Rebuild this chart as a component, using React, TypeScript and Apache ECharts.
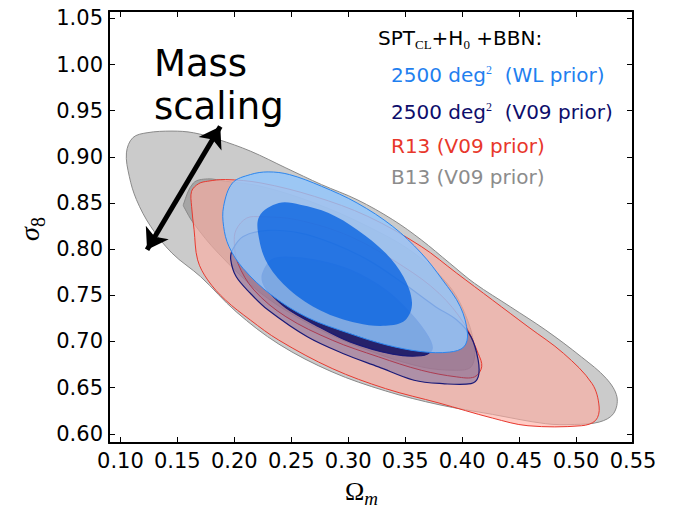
import React, { useEffect, useRef } from "react";
import * as echarts from "echarts";

// ---- axis ticks ----
const X_TICKS = [0.1, 0.15, 0.2, 0.25, 0.3, 0.35, 0.4, 0.45, 0.5, 0.55];
const Y_TICKS = [0.6, 0.65, 0.7, 0.75, 0.8, 0.85, 0.9, 0.95, 1.0, 1.05];

// ---- contour outlines [Omega_m, sigma_8] ----
const B13_OUTER = [
  [0.1053, 0.9043], [0.1109, 0.9207], [0.1234, 0.9261], [0.1453, 0.9279], [0.1641, 0.9261],
  [0.1859, 0.9188], [0.2141, 0.9062], [0.2453, 0.888], [0.2766, 0.8699], [0.3078, 0.8536],
  [0.3391, 0.8319], [0.3641, 0.8101], [0.3891, 0.7848], [0.4109, 0.763], [0.4422, 0.7377],
  [0.4734, 0.7123], [0.5047, 0.6833], [0.5266, 0.6598], [0.5359, 0.6399], [0.5328, 0.6217],
  [0.5203, 0.6127], [0.4984, 0.6101], [0.4734, 0.6109], [0.4266, 0.621], [0.3797, 0.6315],
  [0.3328, 0.6464], [0.2859, 0.667], [0.2391, 0.6971], [0.2016, 0.7322], [0.1703, 0.7703],
  [0.1453, 0.7957], [0.1266, 0.8246], [0.1141, 0.8536], [0.1078, 0.879]
];
const B13_INNER = [
  [0.1553, 0.8482], [0.1641, 0.8717], [0.1766, 0.8761], [0.1922, 0.8736], [0.2234, 0.8681],
  [0.2703, 0.85], [0.3172, 0.8246], [0.3578, 0.7957], [0.3891, 0.7594], [0.4047, 0.7232],
  [0.4109, 0.6906], [0.4078, 0.6725], [0.3953, 0.6688], [0.3641, 0.6725], [0.3172, 0.6906],
  [0.2703, 0.716], [0.2234, 0.7522], [0.1859, 0.7957], [0.1641, 0.8283], [0.1563, 0.8446]
];
const R13_OUTER = [
  [0.1625, 0.8627], [0.1688, 0.871], [0.1766, 0.8736], [0.1922, 0.8754], [0.2234, 0.8717],
  [0.2703, 0.8572], [0.3172, 0.8355], [0.3641, 0.8029], [0.3953, 0.7739], [0.4266, 0.7449],
  [0.4578, 0.716], [0.4891, 0.687], [0.5141, 0.6543], [0.5203, 0.629], [0.5172, 0.6145],
  [0.5047, 0.6087], [0.4578, 0.6087], [0.4266, 0.617], [0.3797, 0.6333], [0.3328, 0.6489],
  [0.2859, 0.6707], [0.2391, 0.7014], [0.2141, 0.7232], [0.1922, 0.7449], [0.1766, 0.7667],
  [0.1678, 0.7884], [0.1647, 0.821], [0.1625, 0.8464]
];
const R13_INNER = [
  [0.2016, 0.821], [0.2109, 0.8337], [0.2234, 0.8351], [0.2547, 0.8319], [0.3016, 0.8138],
  [0.3484, 0.7812], [0.3797, 0.7522], [0.4016, 0.7196], [0.4141, 0.687], [0.4172, 0.6725],
  [0.4109, 0.6616], [0.3953, 0.6616], [0.3641, 0.6688], [0.3266, 0.6833], [0.2859, 0.7014],
  [0.2453, 0.7268], [0.2172, 0.7558], [0.2031, 0.7848], [0.2, 0.8065]
];
const V09_OUTER = [
  [0.1984, 0.7993], [0.2078, 0.8138], [0.2297, 0.8203], [0.2578, 0.8174], [0.2859, 0.8065],
  [0.3172, 0.7884], [0.3484, 0.763], [0.3766, 0.7377], [0.3953, 0.7232], [0.4078, 0.705],
  [0.4141, 0.6797], [0.4141, 0.6616], [0.4078, 0.6543], [0.3828, 0.6543], [0.3578, 0.658],
  [0.3266, 0.6725], [0.2953, 0.687], [0.2641, 0.705], [0.2297, 0.734], [0.2141, 0.7522],
  [0.2016, 0.7703], [0.1969, 0.7884]
];
const V09_INNER = [
  [0.225, 0.7739], [0.2328, 0.7884], [0.2453, 0.7913], [0.2703, 0.7884], [0.3016, 0.7775],
  [0.3328, 0.7558], [0.3547, 0.7304], [0.3703, 0.705], [0.3734, 0.6906], [0.3641, 0.6845],
  [0.3391, 0.6862], [0.3016, 0.6995], [0.2703, 0.7185], [0.2453, 0.7365], [0.2297, 0.7545],
  [0.225, 0.7640]
];
const WL_OUTER = [
  [0.1906, 0.8464], [0.1984, 0.8717], [0.2141, 0.8808], [0.2297, 0.8837], [0.2484, 0.8808],
  [0.2766, 0.8681], [0.3078, 0.85], [0.3391, 0.8246], [0.3641, 0.7957], [0.3828, 0.7667],
  [0.3984, 0.7377], [0.4047, 0.7087], [0.4016, 0.6942], [0.3891, 0.6885], [0.3641, 0.6890],
  [0.3328, 0.6965], [0.3016, 0.7085], [0.2641, 0.7260], [0.2328, 0.7500], [0.2078, 0.7790],
  [0.1953, 0.8029], [0.1906, 0.8246]
];
const WL_INNER = [
  [0.2219, 0.8355], [0.2391, 0.85], [0.2578, 0.8482], [0.2828, 0.8391], [0.3078, 0.821],
  [0.3328, 0.7957], [0.3484, 0.7703], [0.3560, 0.7420], [0.3500, 0.7230], [0.3328, 0.7170],
  [0.3078, 0.7200], [0.2766, 0.7330], [0.2484, 0.7560], [0.2297, 0.7830], [0.2219, 0.8101]
];

// arrow ("Mass scaling") end points in data units
const ARROW_START = [0.1234, 0.7994];
const ARROW_END = [0.1877, 0.9328];

const SANS = "DejaVu Sans";
const SERIF = "Liberation Serif";

function contour(name: string, pts: number[][], fill: string, stroke: string, lw: number, z: number) {
  return {
    name,
    type: "custom",
    coordinateSystem: "cartesian2d",
    xAxisIndex: 0,
    yAxisIndex: 0,
    silent: true,
    clip: true,
    z,
    data: pts,
    encode: { x: 0, y: 1 },
    renderItem: (params: any, api: any) => {
      if (params.dataIndex !== 0) return null;
      const points = pts.map((p) => api.coord(p));
      return {
        type: "polygon",
        shape: { points, smooth: 0.35 },
        style: { fill, stroke, lineWidth: lw },
      };
    },
  };
}

export default function App() {
  const ref = useRef<HTMLDivElement>(null);
  useEffect(() => {
    if (!ref.current) return;
    const chart = echarts.init(ref.current, undefined, { renderer: "svg" });
    const axisLine = { show: true, onZero: false, lineStyle: { color: "#000", width: 2 } };
    const tick = (vals: number[]) => ({
      show: true, inside: true, length: 6, customValues: vals,
      lineStyle: { color: "#000", width: 1 },
    });
    const option: any = {
      animation: false,
      backgroundColor: "#ffffff",
      textStyle: { fontFamily: SANS },
      grid: { left: 109, right: 40, top: 11, bottom: 72 },
      xAxis: [
        {
          type: "value", min: 0.09, max: 0.55, position: "bottom",
          axisLine, axisTick: tick(X_TICKS), splitLine: { show: false },
          axisLabel: {
            customValues: X_TICKS, formatter: (v: number) => v.toFixed(2),
            fontSize: 21, color: "#000", fontFamily: SANS, margin: 7,
          },
        },
        {
          type: "value", min: 0.09, max: 0.55, position: "top",
          axisLine, axisTick: tick(X_TICKS), splitLine: { show: false },
          axisLabel: { show: false },
        },
      ],
      yAxis: [
        {
          type: "value", min: 0.59, max: 1.058, position: "left",
          axisLine, axisTick: tick(Y_TICKS), splitLine: { show: false },
          axisLabel: {
            customValues: Y_TICKS, formatter: (v: number) => v.toFixed(2),
            fontSize: 21, color: "#000", fontFamily: SANS, margin: 6,
          },
        },
        {
          type: "value", min: 0.59, max: 1.058, position: "right",
          axisLine, axisTick: tick(Y_TICKS), splitLine: { show: false },
          axisLabel: { show: false },
        },
      ],
      series: [
        contour("B13 outer", B13_OUTER, "rgba(140,140,140,0.45)", "#8a8a8a", 1, 1),
        contour("B13 inner", B13_INNER, "rgba(120,120,120,0.45)", "#8a8a8a", 1, 2),
        contour("R13 outer", R13_OUTER, "rgba(255,172,162,0.62)", "#e8392f", 1, 3),
        contour("R13 inner", R13_INNER, "rgba(200,110,110,0.2)", "#e8392f", 1, 4),
        contour("V09 outer", V09_OUTER, "rgba(60,70,150,0.35)", "#1a1a78", 1.2, 5),
        contour("V09 inner", V09_INNER, "rgba(20,20,100,0.88)", "#1a1a78", 1.2, 6),
        contour("WL outer", WL_OUTER, "rgba(145,198,252,0.82)", "#2a86f0", 1, 7),
        contour("WL inner", WL_INNER, "rgba(10,100,225,0.8)", "rgba(0,0,0,0)", 0, 8),
        {
          type: "lines", coordinateSystem: "cartesian2d", xAxisIndex: 0, yAxisIndex: 0,
          silent: true, z: 10,
          symbol: ["arrow", "arrow"], symbolSize: 20,
          lineStyle: { color: "#000", width: 5, opacity: 1 },
          data: [{ coords: [ARROW_START, ARROW_END] }],
        },
      ],
      graphic: [
        {
          type: "text", x: 154, y: 42, z: 20,
          style: { text: "Mass\nscaling", fontSize: 37, fontFamily: SANS, fill: "#000", lineHeight: 43, verticalAlign: "top" },
        },
        {
          type: "text", x: 378, y: 28.3, z: 20,
          style: {
            text: "{m|SPT}{s|CL}{m|+H}{s|0}{m| +BBN:}", verticalAlign: "top", fill: "#000",
            rich: {
              m: { fontSize: 20, fontFamily: SANS, fill: "#000", lineHeight: 20, verticalAlign: "top" },
              s: { fontSize: 13, fontFamily: SERIF, fill: "#000", lineHeight: 13, verticalAlign: "top", padding: [10, 0, 0, 0] },
            },
          },
        },
        {
          type: "text", x: 391, y: 64.2, z: 20,
          style: {
            text: "{m|2500 deg}{p|2}{m|  (WL prior)}", verticalAlign: "top", fill: "#1f80ef",
            rich: {
              m: { fontSize: 20, fontFamily: SANS, fill: "#1f80ef", lineHeight: 22 },
              p: { fontSize: 12, fontFamily: SERIF, fill: "#1f80ef", lineHeight: 12, verticalAlign: "top" },
            },
          },
        },
        {
          type: "text", x: 391, y: 100.7, z: 20,
          style: {
            text: "{m|2500 deg}{p|2}{m|  (V09 prior)}", verticalAlign: "top", fill: "#0d0d6b",
            rich: {
              m: { fontSize: 20, fontFamily: SANS, fill: "#0d0d6b", lineHeight: 22 },
              p: { fontSize: 12, fontFamily: SERIF, fill: "#0d0d6b", lineHeight: 12, verticalAlign: "top" },
            },
          },
        },
        {
          type: "text", x: 391, y: 146, z: 20,
          style: { text: "R13 (V09 prior)", fontSize: 20, fontFamily: SANS, fill: "#e8372b", verticalAlign: "middle" },
        },
        {
          type: "text", x: 391, y: 176.7, z: 20,
          style: { text: "B13 (V09 prior)", fontSize: 20, fontFamily: SANS, fill: "#8c8c8c", verticalAlign: "middle" },
        },
        {
          type: "text", x: 345, y: 478.2, z: 20,
          style: {
            text: "{o|Ω}{m|m}", verticalAlign: "top", fill: "#000",
            rich: {
              o: { fontSize: 26, fontFamily: SERIF, fill: "#000", lineHeight: 26, verticalAlign: "top" },
              m: { fontSize: 19, fontFamily: SERIF, fontStyle: "italic", fill: "#000", lineHeight: 19, verticalAlign: "top", padding: [11, 0, 0, 0] },
            },
          },
        },
        {
          type: "text", x: 29.2, y: 229, rotation: Math.PI / 2, z: 20,
          style: {
            text: "{s|σ}{n|8}", align: "center", verticalAlign: "middle", fill: "#000",
            rich: {
              s: { fontSize: 28, fontFamily: SERIF, fontStyle: "italic", fill: "#000", lineHeight: 28, verticalAlign: "top" },
              n: { fontSize: 20, fontFamily: SERIF, fill: "#000", lineHeight: 20, verticalAlign: "top", padding: [12.7, 0, 0, 0] },
            },
          },
        },
      ],
    };
    chart.setOption(option);
    return () => chart.dispose();
  }, []);
  return <div ref={ref} style={{ position: "fixed", left: 0, top: 0, width: 673, height: 515 }} />;
}
